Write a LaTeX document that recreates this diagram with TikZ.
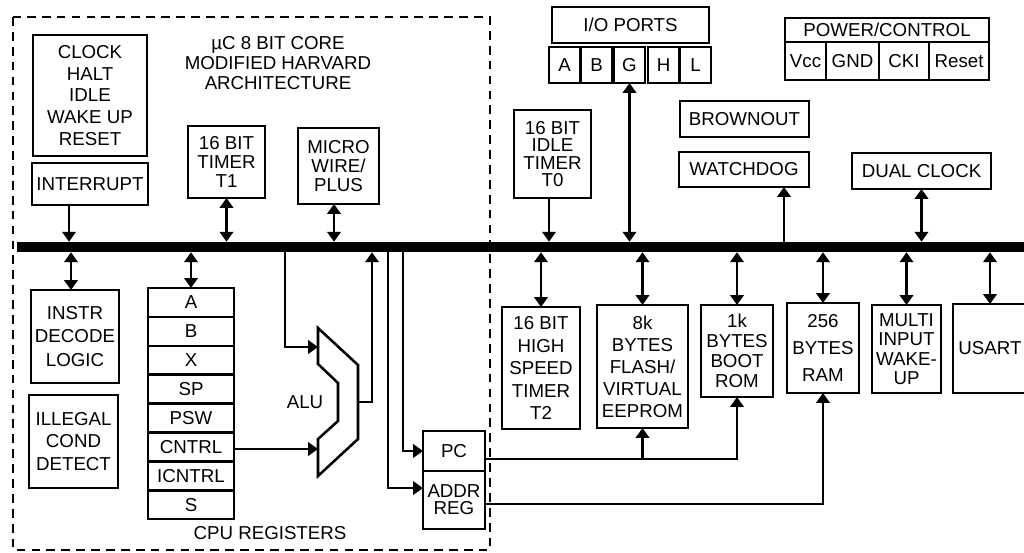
\documentclass[tikz,border=0pt]{standalone}
\usepackage{fontspec}
\setmainfont{Liberation Sans}
\usetikzlibrary{positioning,arrows.meta}

\tikzset{
  blk/.style={draw, line width=1.8pt, inner sep=0pt, outer sep=0pt, align=center, font=\fontsize{13.3}{15}\selectfont},
  lsp/.style={font=\fontsize{13.3}{#1}\selectfont},
  reg/.style={blk, minimum width=2.15cm, minimum height=0.7225cm},
  arr/.style={line width=1.8pt, -{Triangle[length=7pt,width=9.5pt]}},
  dbl/.style={line width=1.8pt, {Triangle[length=7pt,width=9.5pt]}-{Triangle[length=7pt,width=9.5pt]}},
}

\begin{document}
\begin{tikzpicture}[x=0.025cm, y=-0.025cm]
    \useasboundingbox (0,0) rectangle (1024,552);
    % core
    \draw[line width=2.1pt, dash pattern=on 6.2pt off 4.4pt] (13,17) rectangle (490,550);
    \node[blk, lsp=15.6pt, minimum width=2.85cm, minimum height=3.025cm] (clk) at (90,95.5) {CLOCK\\HALT\\IDLE\\WAKE UP\\RESET};
    \node[blk, minimum width=2.9cm, minimum height=1.05cm] (intr) at (90,184) {INTERRUPT};
    \node[lsp=14.2pt, align=center] (title) at (278,63) {µC 8 BIT CORE\\MODIFIED HARVARD\\ARCHITECTURE};
    \node[blk, lsp=13.5pt, minimum width=1.925cm, minimum height=1.8cm] (tmra) at (226.5,162) {16 BIT\\TIMER\\T1};
    \node[blk, lsp=13.5pt, minimum width=2.025cm, minimum height=1.9cm] (mwire) at (338.5,166) {MICRO\\WIRE/\\PLUS};
    \node[fill, inner sep=0pt, minimum width=25.325cm, minimum height=0.25cm] (bus) at (523.5,247) {};
    \node[blk, lsp=16.5pt, minimum width=2.2cm, minimum height=2.325cm] (instr) at (75,336.5) {INSTR\\DECODE\\LOGIC};
    \node[blk, lsp=16.3pt, minimum width=2.225cm, minimum height=2.325cm] (illeg) at (73.5,441.5) {ILLEGAL\\COND\\DETECT};
    % cpu registers
    \node[reg] (ra) at (191,302.4) {A};
    \node[reg, below=0pt of ra] (rb) {B};
    \node[reg, below=0pt of rb] (rx) {X};
    \node[reg, below=0pt of rx] (rsp) {SP};
    \node[reg, below=0pt of rsp] (rpsw) {PSW};
    \node[reg, below=0pt of rpsw] (rcntrl) {CNTRL};
    \node[reg, below=0pt of rcntrl] (ricntrl) {ICNTRL};
    \node[reg, below=0pt of ricntrl] (rs) {S};
    \node[lsp=15pt] (cpulbl) at (270,533) {CPU REGISTERS};
    % alu
    \draw[line width=1.8pt, line join=miter] (318,328) -- (358,365) -- (358,439) -- (318,476) -- (318,439) -- (338,421) -- (338,383) -- (318,364) -- cycle;
    \coordinate (alua) at (318,347);
    \coordinate (alub) at (318,449);
    \coordinate (aluo) at (358,402);
    \node[lsp=15pt] (alulbl) at (305,402) {ALU};
    \node[blk, minimum width=1.55cm, minimum height=1cm] (pc) at (454,451) {PC};
    \node[blk, lsp=12pt, minimum width=1.55cm, minimum height=1.45cm, below=0pt of pc] (addr) {ADDR\\REG};
    % peripherals
    \node[blk, minimum width=3.925cm, minimum height=0.9cm] (io) at (630.5,25) {I/O PORTS};
    \node[blk, minimum width=0.775cm, minimum height=0.9cm] (pa) at (564.5,65) {A};
    \node[blk, minimum width=0.775cm, minimum height=0.9cm] (pb) at (596.5,65) {B};
    \node[blk, minimum width=0.775cm, minimum height=0.9cm] (pg) at (629.5,65) {G};
    \node[blk, minimum width=0.775cm, minimum height=0.9cm] (ph) at (663.5,65) {H};
    \node[blk, minimum width=0.775cm, minimum height=0.9cm] (pl) at (695.5,65) {L};
    \node[blk, minimum width=5.1cm, minimum height=0.6cm] (pwr) at (887,30) {POWER/CONTROL};
    \node[blk, minimum width=1.025cm, minimum height=0.95cm] (pvcc) at (805.5,61) {Vcc};
    \node[blk, minimum width=1.325cm, minimum height=0.95cm, right=0pt of pvcc] (pgnd) {GND};
    \node[blk, minimum width=1.25cm, minimum height=0.95cm, right=0pt of pgnd] (pcki) {CKI};
    \node[blk, minimum width=1.5cm, minimum height=0.95cm, right=0pt of pcki] (prst) {Reset};
    \node[blk, lsp=12.4pt, minimum width=1.925cm, minimum height=2.2cm] (tmr0) at (552.5,154) {16 BIT\\IDLE\\TIMER\\T0};
    \node[blk, minimum width=3.225cm, minimum height=0.9cm] (brown) at (744.5,119) {BROWNOUT};
    \node[blk, minimum width=3.25cm, minimum height=0.875cm] (wdog) at (744,169.5) {WATCHDOG};
    \node[blk, minimum width=3.475cm, minimum height=0.9cm] (dclk) at (921.5,171) {DUAL CLOCK};
    \node[blk, lsp=16pt, minimum width=1.95cm, minimum height=3.05cm] (tmr2) at (541,368) {16 BIT\\HIGH\\SPEED\\TIMER\\T2};
    \node[blk, lsp=15.6pt, minimum width=2.275cm, minimum height=3.075cm] (flash) at (642.5,366.5) {8k\\BYTES\\FLASH/\\VIRTUAL\\EEPROM};
    \node[blk, lsp=14.2pt, minimum width=1.8cm, minimum height=2.3cm] (boot) at (737,351) {1k\\BYTES\\BOOT\\ROM};
    \node[blk, lsp=19pt, minimum width=1.8cm, minimum height=2.25cm] (ram) at (823,348) {256\\BYTES\\RAM};
    \node[blk, lsp=13.8pt, minimum width=1.725cm, minimum height=2.2cm] (multi) at (906.5,349) {MULTI\\INPUT\\WAKE-\\UP};
    \node[blk, minimum width=1.85cm, minimum height=2.225cm] (usart) at (990,348.5) {USART};
    % above the bus
    \draw[arr] (intr.south -| 69,0) -- (bus.north -| 69,0);
    \draw[dbl] (tmra.south) -- (bus.north -| tmra.south);
    \draw[dbl] (mwire.south -| 334,0) -- (bus.north -| 334,0);
    \draw[arr] (tmr0.south -| 549,0) -- (bus.north -| 549,0);
    \draw[dbl] (pg.south) -- (bus.north -| pg.south);
    \draw[arr] (bus.north -| 784,0) -- (wdog.south -| 784,0);
    \draw[dbl] (dclk.south) -- (bus.north -| dclk.south);
    % below the bus
    \draw[dbl] (bus.south -| 71,0) -- (instr.north -| 71,0);
    \draw[dbl] (bus.south -| ra.north) -- (ra.north);
    \draw[dbl] (bus.south -| tmr2.north) -- (tmr2.north);
    \draw[dbl] (bus.south -| flash.north) -- (flash.north);
    \draw[dbl] (bus.south -| boot.north) -- (boot.north);
    \draw[dbl] (bus.south -| ram.north) -- (ram.north);
    \draw[dbl] (bus.south -| multi.north) -- (multi.north);
    \draw[dbl] (bus.south -| usart.north) -- (usart.north);
    % alu and address paths
    \draw[arr] (bus.south -| 285,0) |- (alua);
    \draw[arr] (rcntrl.east |- alub) -- (alub);
    \draw[arr] (aluo) -| (bus.south -| 372,0);
    \draw[arr] (bus.south -| 403,0) |- (pc.west);
    \draw[arr] (bus.south -| 388,0) |- ([yshift=8.5pt]addr.west);
    \coordinate (pcout) at ([yshift=-5.7pt]pc.east);
    \draw[arr] (pcout) -| (boot.south);
    \draw[arr] (flash.south |- pcout) -- (flash.south);
    \draw[arr] ([yshift=-2.8pt]addr.east) -| (ram.south);
\end{tikzpicture}
\end{document}
